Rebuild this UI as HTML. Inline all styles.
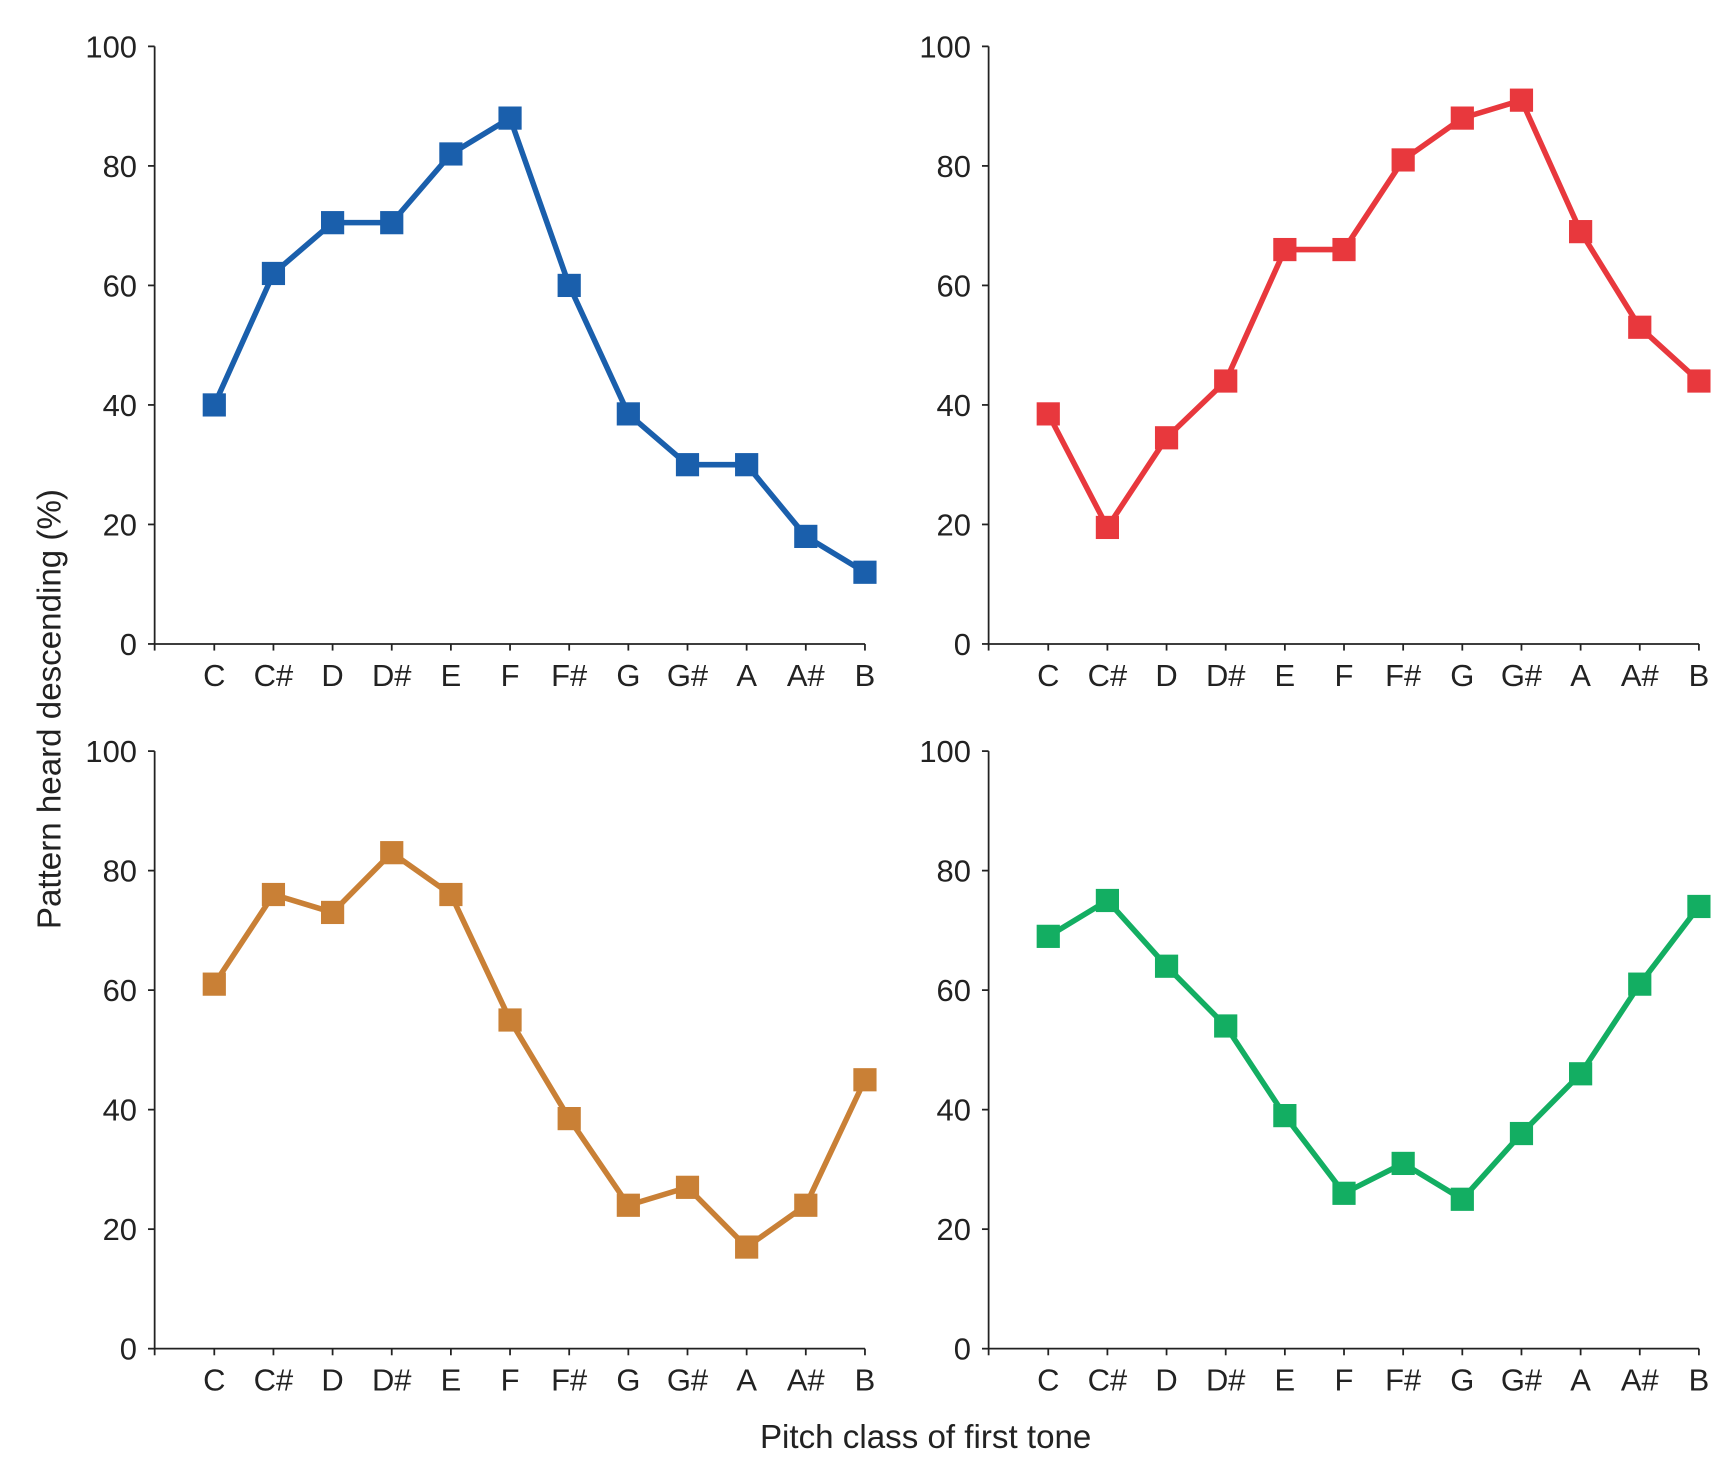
<!DOCTYPE html>
<html><head><meta charset="utf-8"><style>
html,body{margin:0;padding:0;background:#fff;}
svg{display:block;}
text{font-family:"Liberation Sans",sans-serif;fill:#222;}
</style></head><body>
<svg id="s" width="1732" height="1479" viewBox="0 0 1568 1339" preserveAspectRatio="none" xmlns="http://www.w3.org/2000/svg">
<text x="55" y="642" font-size="30" text-anchor="middle" transform="rotate(-90 55 642)">Pattern heard descending (%)</text>
<text x="838" y="1311" font-size="30" text-anchor="middle">Pitch class of first tone</text>
</svg>
<script>
var s=document.getElementById('s'),ns='http://www.w3.org/2000/svg';
function el(t,a,txt){var e=document.createElementNS(ns,t);for(var k in a)e.setAttribute(k,a[k]);if(txt)e.textContent=txt;s.appendChild(e);return e;}
var labs=['C','C#','D','D#','E','F','F#','G','G#','A','A#','B'];
var panels=[
 {ax:140,top:42,c:'#1a5fac',d:[40,62,70.5,70.5,82,88,60,38.5,30,30,18,12]},
 {ax:895,top:42,c:'#e8383d',d:[38.5,19.5,34.5,44,66,66,81,88,91,69,53,44]},
 {ax:140,top:680,c:'#c98036',d:[61,76,73,83,76,55,38.5,24,27,17,24,45]},
 {ax:895,top:680,c:'#13ae62',d:[69,75,64,54,39,26,31,25,36,46,61,74]}];
panels.forEach(function(p){
 var bot=p.top+541,sc=5.41,x0=p.ax+54,st=53.55;
 el('line',{x1:p.ax,y1:p.top,x2:p.ax,y2:bot,stroke:'#222','stroke-width':1.6});
 el('line',{x1:p.ax,y1:bot,x2:x0+11*st,y2:bot,stroke:'#222','stroke-width':1.6});
 for(var v=0;v<=100;v+=20){var y=bot-v*sc;
  el('line',{x1:p.ax-6,y1:y,x2:p.ax,y2:y,stroke:'#222','stroke-width':1.6});
  el('text',{x:p.ax-16,y:y+10,'font-size':28,'text-anchor':'end'},String(v));}
 el('line',{x1:p.ax,y1:bot,x2:p.ax,y2:bot+6,stroke:'#222','stroke-width':1.6});
 var pts=[];
 for(var i=0;i<12;i++){var x=x0+i*st;
  el('line',{x1:x,y1:bot,x2:x,y2:bot+6,stroke:'#222','stroke-width':1.6});
  el('text',{x:x,y:bot+38,'font-size':28,'text-anchor':'middle'},labs[i]);
  pts.push(x+','+(bot-p.d[i]*sc));}
 el('polyline',{points:pts.join(' '),fill:'none',stroke:p.c,'stroke-width':5,'stroke-linejoin':'miter'});
 for(var i=0;i<12;i++){var x=x0+i*st,y=bot-p.d[i]*sc;
  el('rect',{x:x-10.5,y:y-10.5,width:21,height:21,fill:p.c});}
});
</script>
</body></html>
